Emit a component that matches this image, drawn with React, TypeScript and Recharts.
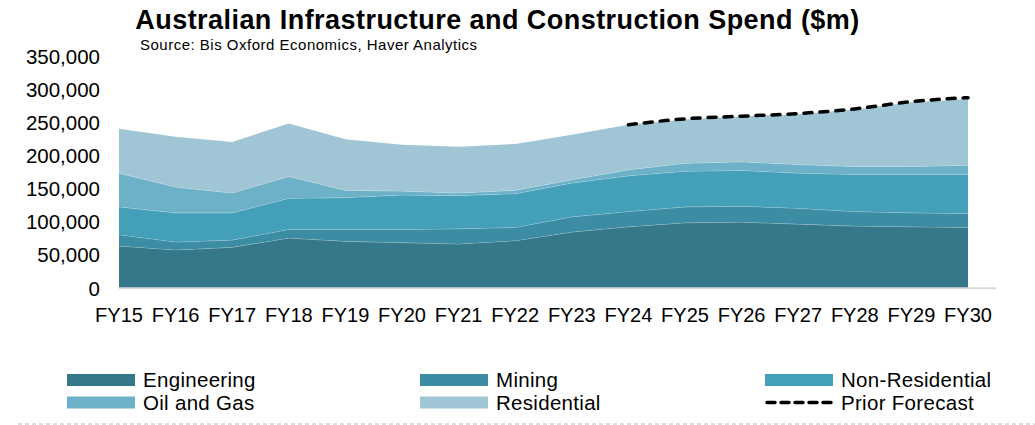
import React from 'react';
import { ComposedChart, Area, Line, XAxis, YAxis } from 'recharts';

const years = ['FY15', 'FY16', 'FY17', 'FY18', 'FY19', 'FY20', 'FY21', 'FY22', 'FY23', 'FY24', 'FY25', 'FY26', 'FY27', 'FY28', 'FY29', 'FY30'];
const engineering = [64000, 58000, 62000, 76000, 71000, 69000, 67000, 72000, 85000, 93000, 99000, 100000, 97000, 94000, 93000, 92000];
const mining = [17000, 12000, 11000, 13000, 18000, 20000, 23000, 20000, 23000, 23000, 24000, 24000, 24000, 22000, 21000, 21000];
const nonResidential = [42000, 44000, 41000, 47000, 48000, 52000, 50000, 51000, 51000, 54000, 54000, 54000, 53000, 56000, 58000, 59000];
const oilAndGas = [51000, 39000, 30000, 33000, 11000, 6000, 4000, 5000, 5000, 9000, 12000, 13000, 13000, 12000, 12000, 14000];
const residential = [67000, 76000, 77000, 80000, 77000, 70000, 70000, 70000, 68000, 68000, 66000, 69000, 76000, 86000, 97000, 100000];
const priorForecast = [null, null, null, null, null, null, null, null, null, 247000, 256000, 260000, 264000, 271000, 282000, 288000];
const yTicks = [0, 50000, 100000, 150000, 200000, 250000, 300000, 350000];

const title = 'Australian Infrastructure and Construction Spend ($m)';
const subtitle = 'Source: Bis Oxford Economics, Haver Analytics';

const COLORS = {
  engineering: '#357889',
  mining: '#3c8ca3',
  nonResidential: '#449fb9',
  oilAndGas: '#6cb1c8',
  residential: '#a0c6d6',
};

const data = years.map((y, i) => ({
  year: y,
  engineering: engineering[i],
  mining: mining[i],
  nonResidential: nonResidential[i],
  oilAndGas: oilAndGas[i],
  residential: residential[i],
  priorForecast: priorForecast[i],
}));

const FONT = '"Liberation Sans", Arial, Helvetica, sans-serif';

const legendItems = [
  { label: 'Engineering', color: COLORS.engineering, col: 0, row: 0 },
  { label: 'Mining', color: COLORS.mining, col: 1, row: 0 },
  { label: 'Non-Residential', color: COLORS.nonResidential, col: 2, row: 0 },
  { label: 'Oil and Gas', color: COLORS.oilAndGas, col: 0, row: 1 },
  { label: 'Residential', color: COLORS.residential, col: 1, row: 1 },
  { label: 'Prior Forecast', color: '#000', col: 2, row: 1, dashed: true },
];
const colX = [67, 420, 765];
const rowY = [380, 402.5];

const fmt = (v: number) => v.toLocaleString('en-US');

export default function App() {
  const areaStroke = 'rgba(255,255,255,0.4)';
  return (
    <div style={{ position: 'absolute', left: 0, top: 0, width: 1035, height: 425, background: '#fff', fontFamily: FONT }}>
      <ComposedChart
        width={1035}
        height={425}
        data={data}
        margin={{ top: 56.6, right: 39, bottom: 106.7, left: 0 }}
        style={{ fontFamily: FONT }}
      >
        <XAxis
          dataKey="year"
          interval={0}
          padding={{ left: 0, right: 28 }}
          tickLine={false}
          tickSize={0}
          tickMargin={19}
          height={30}
          axisLine={{ stroke: '#d9d9d9', strokeWidth: 2 }}
          tick={{ fontSize: 20, fill: '#000', fontFamily: FONT }}
        />
        <YAxis
          domain={[0, 350000]}
          ticks={yTicks}
          interval={0}
          tickFormatter={fmt}
          axisLine={false}
          tickLine={false}
          tickSize={0}
          tickMargin={19}
          width={119}
          tick={{ fontSize: 20.5, fill: '#000', fontFamily: FONT }}
        />
        <Area type="linear" dataKey="engineering" stackId="1" fill={COLORS.engineering} fillOpacity={1} stroke={areaStroke} strokeWidth={1} isAnimationActive={false} />
        <Area type="linear" dataKey="mining" stackId="1" fill={COLORS.mining} fillOpacity={1} stroke={areaStroke} strokeWidth={1} isAnimationActive={false} />
        <Area type="linear" dataKey="nonResidential" stackId="1" fill={COLORS.nonResidential} fillOpacity={1} stroke={areaStroke} strokeWidth={1} isAnimationActive={false} />
        <Area type="linear" dataKey="oilAndGas" stackId="1" fill={COLORS.oilAndGas} fillOpacity={1} stroke={areaStroke} strokeWidth={1} isAnimationActive={false} />
        <Area type="linear" dataKey="residential" stackId="1" fill={COLORS.residential} fillOpacity={1} stroke="none" isAnimationActive={false} />
        <Line
          type="monotone"
          dataKey="priorForecast"
          stroke="#000"
          strokeWidth={3.5}
          strokeDasharray="8 8"
          strokeLinecap="round"
          dot={false}
          activeDot={false}
          connectNulls={false}
          isAnimationActive={false}
        />
      </ComposedChart>
      <svg width={1035} height={425} style={{ position: 'absolute', left: 0, top: 0, pointerEvents: 'none' }}>
        <text x={497.5} y={29} textAnchor="middle" fontSize={27} fontWeight="bold" letterSpacing={0.45} fontFamily={FONT} fill="#000">
          {title}
        </text>
        <text x={140} y={50} fontSize={15} fontFamily={FONT} fill="#000" letterSpacing={0.5}>
          {subtitle}
        </text>
        {legendItems.map((it) => {
          const x = colX[it.col];
          const y = rowY[it.row];
          return (
            <g key={it.label}>
              {it.dashed ? (
                <line x1={x + 2} y1={y} x2={x + 66} y2={y} stroke="#000" strokeWidth={3.5} strokeDasharray="8 6" strokeLinecap="round" />
              ) : (
                <rect x={x} y={y - 6} width={68} height={12} fill={it.color} />
              )}
              <text x={x + 76} y={y + 7} fontSize={20.5} letterSpacing={0.3} fontFamily={FONT} fill="#000">
                {it.label}
              </text>
            </g>
          );
        })}
        <line x1={18} y1={424} x2={1035} y2={424} stroke="#bbb" strokeWidth={1} strokeDasharray="4 3" />
      </svg>
    </div>
  );
}
